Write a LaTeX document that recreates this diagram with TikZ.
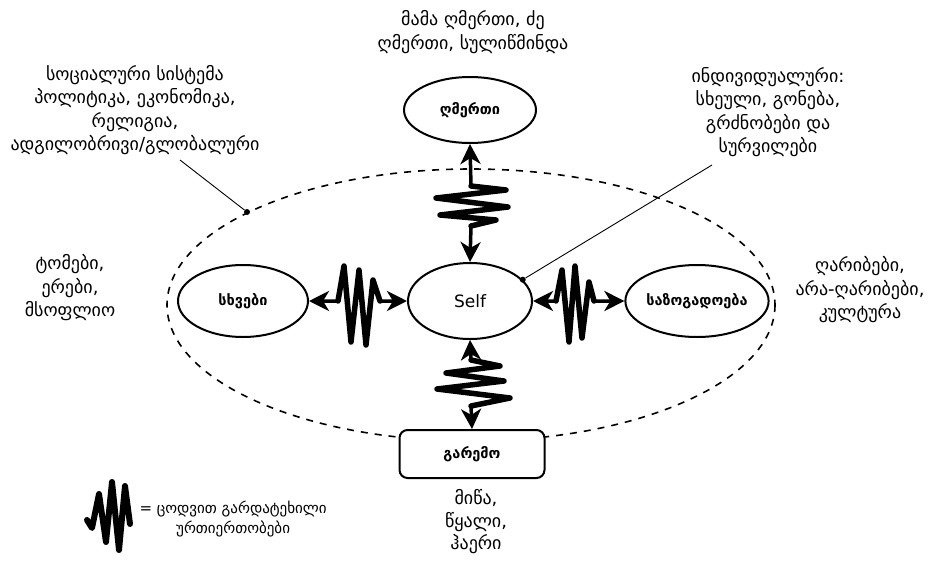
\documentclass[tikz,border=0pt]{standalone}
\usepackage{fontspec}
\setmainfont{DejaVu Sans}
\usetikzlibrary{shapes.geometric,arrows.meta}
\newcommand\soctitle{\iffontchar\font"1CA1 ᲡᲝᲪᲘᲐᲚᲣᲠᲘ ᲡᲘᲡᲢᲔᲛᲐ\else სოციალური სისტემა\fi}
\newcommand\indtitle{\iffontchar\font"1CA1 ᲘᲜᲓᲘᲕᲘᲓᲣᲐᲚᲣᲠᲘ:\else ინდივიდუალური:\fi}
\begin{document}
\begin{tikzpicture}[x=1pt,y=-1pt,
  ell/.style={draw,ellipse,line width=2pt,inner sep=0pt,fill=white,font=\fontsize{14.5}{17}\selectfont\bfseries},
  lab/.style={align=center,font=\fontsize{18}{23.5}\selectfont},
  conn/.style={line width=3.5pt,line join=round,{Stealth[length=20pt,width=20pt,inset=6pt]}-{Stealth[length=20pt,width=20pt,inset=6pt]}},
  wig/.style={line width=5.5pt,line join=round,line cap=round},
  leader/.style={line width=0.9pt},
  dot/.style={circle,fill,inner sep=0pt,minimum size=6pt}
]
\useasboundingbox (0,0) rectangle (930,563);
% social system boundary
\draw[line width=1.6pt,dash pattern=on 7pt off 7pt] (471,305) ellipse [x radius=304, y radius=136];
% nodes
\node[ell,minimum width=124pt,minimum height=76pt,font=\fontsize{17}{20}\selectfont] (self) at (470,301) {Self};
\node[ell,minimum width=132pt,minimum height=66pt] (god) at (470,110) {ღმერთი};
\node[ell,minimum width=130pt,minimum height=72pt] (others) at (243,301) {სხვები};
\node[ell,minimum width=132pt,minimum height=72pt] (soc) at (697,301) {საზოგადოება};
\node[draw,rounded corners=8pt,line width=2pt,fill=white,minimum width=145pt,minimum height=48pt,font=\fontsize{14.5}{17}\selectfont\bfseries] (env) at (472,454) {გარემო};
% connectors with broken-relationship squiggles
\draw[conn] (god.south) -- (471,186) -- (506,190) -- (436,198) -- (508,207) -- (440,215) -- (496,220) -- (471,226) -- (self.north);
\draw[wig] (471,186) -- (506,190) -- (436,198) -- (508,207) -- (440,215) -- (496,220) -- (471,226);
\draw[conn] (self.south) -- (471,360) -- (500,366) -- (446,373) -- (504,381) -- (437,389) -- (510,398) -- (471,406) -- (env.north);
\draw[wig] (471,360) -- (500,366) -- (446,373) -- (504,381) -- (437,389) -- (510,398) -- (471,406);
\draw[conn] (others.east) -- (338,301) -- (344,266) -- (351,342) -- (359,270) -- (366,345) -- (373,280) -- (380,301) -- (self.west);
\draw[wig] (338,301) -- (344,266) -- (351,342) -- (359,270) -- (366,345) -- (373,280) -- (380,301);
\draw[conn] (self.east) -- (556,301) -- (562,270) -- (569,342) -- (575,266) -- (582,338) -- (589,282) -- (594,301) -- (soc.west);
\draw[wig] (556,301) -- (562,270) -- (569,342) -- (575,266) -- (582,338) -- (589,282) -- (594,301);
% labels
\node[lab] (lgod) at (473,32) {მამა ღმერთი, ძე\\ღმერთი, სულიწმინდა};
\node[lab] (lsoc) at (135,110) {\soctitle\\პოლიტიკა, ეკონომიკა,\\რელიგია,\\ადგილობრივი/გლობალური};
\node[lab] (lind) at (768,112) {\indtitle\\სხეული, გონება,\\გრძნობები და\\სურვილები};
\node[lab] (loth) at (70,288) {ტომები,\\ერები,\\მსოფლიო};
\node[lab] (lsty) at (860,290) {ღარიბები,\\არა-ღარიბები,\\კულტურა};
\node[lab,font=\fontsize{18}{22.5}\selectfont] (lenv) at (476,522) {მიწა,\\წყალი,\\ჰაერი};
% leaders
\node[dot] (dotL) at (247,212) {};
\node[dot] (dotR) at (self.22) {};
\coordinate (ldL) at (180,160);
\coordinate (ldR) at (712,165);
\draw[leader] (ldL) -- (dotL);
\draw[leader] (ldR) -- (dotR);
% legend
\draw[wig,line width=6pt] (87,520) -- (92,528) -- (99,494) -- (106,542) -- (112,482) -- (119,550) -- (125,486) -- (130,524);
\node[lab,font=\fontsize{15}{20}\selectfont,anchor=west] (leg) at (136,519) {= ცოდვით გარდატეხილი\\ურთიერთობები};
\end{tikzpicture}
\end{document}
